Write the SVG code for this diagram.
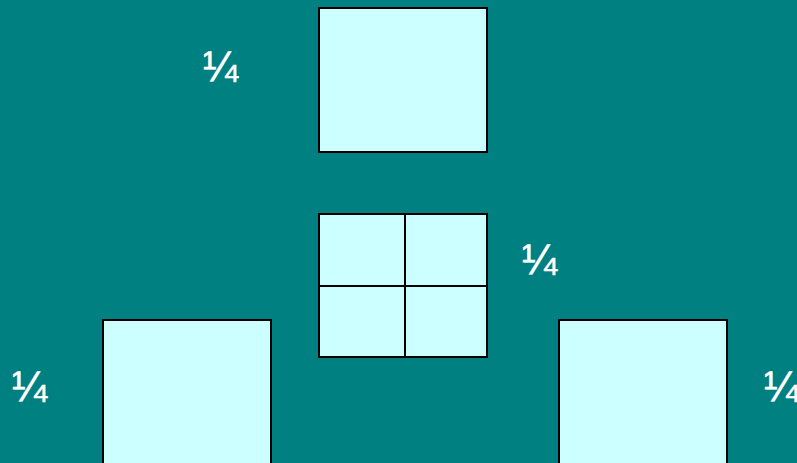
<svg xmlns="http://www.w3.org/2000/svg" width="797" height="463" viewBox="0 0 797 463">
<style>
.box{fill:#CCFFFF;stroke:#000;stroke-width:2}
.ln{stroke:#000;stroke-width:2}
.q{fill:#fff;stroke:#fff;stroke-width:0.6;font-family:"Liberation Sans",Arial,sans-serif;font-size:42px}
</style>
<rect width="797" height="463" fill="#008080"/>
<g id="top"><rect class="box" x="319" y="8" width="168" height="144"/></g>
<g id="grid"><rect class="box" x="319" y="214" width="168" height="143"/>
<line class="ln" x1="405" y1="214" x2="405" y2="357"/><line class="ln" x1="319" y1="286" x2="487" y2="286"/></g>
<g id="bl"><rect class="box" x="103" y="320" width="168" height="150"/></g>
<g id="br"><rect class="box" x="559" y="320" width="168" height="150"/></g>
<g id="labels">
<text class="q" x="203" y="81">¼</text>
<text class="q" x="522" y="274">¼</text>
<text class="q" x="12" y="401">¼</text>
<text class="q" x="764" y="401">¼</text>
</g>
</svg>
